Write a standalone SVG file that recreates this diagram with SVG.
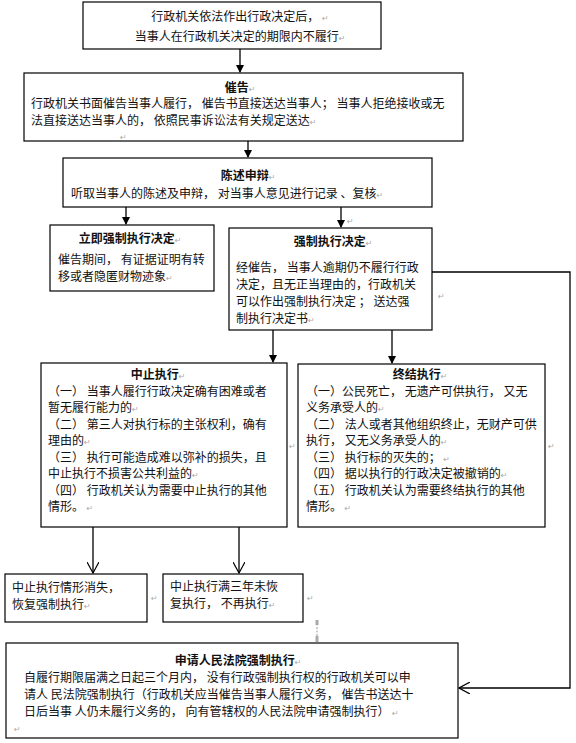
<svg xmlns="http://www.w3.org/2000/svg" width="576" height="743" viewBox="0 0 576 743">
<defs>
<style>
.box{fill:#fff;stroke:#000;stroke-width:1.2}
text{font-family:"Noto Sans CJK SC","Liberation Sans",sans-serif;font-size:12px;fill:#111}
.t{font-weight:bold;text-anchor:middle}
.c{text-anchor:middle}
.m{font-family:"DejaVu Sans",sans-serif;font-size:8px;fill:#aaa;font-weight:normal}
.ln{stroke:#000;stroke-width:1.3;fill:none}
</style>
<marker id="fa" markerWidth="8" markerHeight="8" refX="7" refY="4" orient="auto" markerUnits="userSpaceOnUse">
<path d="M0,0 L8,4 L0,8 Z" fill="#000"/>
</marker>
<marker id="oa" markerWidth="12" markerHeight="12" refX="11" refY="6" orient="auto" markerUnits="userSpaceOnUse">
<path d="M0,0 L11,6 L0,12" fill="none" stroke="#000" stroke-width="1.2"/>
</marker>
</defs>
<rect width="576" height="743" fill="#fff"/>

<g id="connectors">
<line class="ln" x1="240" y1="49" x2="240" y2="72" marker-end="url(#fa)"/>
<line class="ln" x1="248" y1="141" x2="248" y2="157" marker-end="url(#fa)"/>
<line class="ln" x1="126" y1="207" x2="126" y2="224" marker-end="url(#fa)"/>
<line class="ln" x1="341" y1="207" x2="341" y2="227" marker-end="url(#fa)"/>
<line class="ln" x1="273" y1="330" x2="273" y2="362" marker-end="url(#fa)"/>
<line class="ln" x1="392" y1="330" x2="392" y2="363" marker-end="url(#fa)"/>
<line class="ln" x1="93" y1="527" x2="93" y2="573" marker-end="url(#oa)"/>
<line class="ln" x1="239" y1="527" x2="239" y2="573" marker-end="url(#oa)"/>
<polyline class="ln" points="432,272 570,272 570,688 459,688" marker-end="url(#oa)"/>
<line x1="317" y1="620" x2="317" y2="642" stroke="#999" stroke-width="1" stroke-dasharray="2,1.5"/>
<rect x="315.5" y="620" width="3" height="5" fill="#aaa"/>
<rect x="315.5" y="636" width="3" height="6" fill="#aaa"/>
</g>

<g id="n1">
<rect class="box" x="83" y="2" width="298" height="47"/>
<text class="c" x="240" y="21">行政机关依法作出行政决定后，<tspan class="m"> ↵</tspan></text>
<text class="c" x="240" y="41">当事人在行政机关决定的期限内不履行<tspan class="m">↵</tspan></text>
</g>

<g id="n2">
<rect class="box" x="24" y="73" width="439" height="68"/>
<text class="t" x="240" y="92">催告<tspan class="m">↵</tspan></text>
<text x="31" y="108">行政机关书面催告当事人履行， 催告书直接送达当事人； 当事人拒绝接收或无</text>
<text x="31" y="125">法直接送达当事人的， 依照民事诉讼法有关规定送达<tspan class="m">↵</tspan></text>
</g>
<text class="m" x="120" y="140">↵</text>

<g id="n3">
<rect class="box" x="63" y="158" width="369" height="49"/>
<text class="t" x="248" y="180">陈述申辩<tspan class="m">↵</tspan></text>
<text x="71" y="198">听取当事人的陈述及申辩， 对当事人意见进行记录 、复核<tspan class="m">↵</tspan></text>
</g>
<text class="m" x="347" y="224">↵</text>

<g id="n4">
<rect class="box" x="50" y="225" width="164" height="66"/>
<text class="t" x="130" y="243">立即强制执行决定<tspan class="m">↵</tspan></text>
<text x="58" y="264">催告期间， 有证据证明有转</text>
<text x="58" y="281">移或者隐匿财物迹象<tspan class="m">↵</tspan></text>
</g>

<g id="n5">
<rect class="box" x="229" y="228" width="203" height="102"/>
<text class="t" x="333" y="246">强制执行决定<tspan class="m">↵</tspan></text>
<text x="236" y="272">经催告， 当事人逾期仍不履行行政</text>
<text x="236" y="289">决定，且无正当理由的，行政机关</text>
<text x="236" y="306">可以作出强制执行决定 ； 送达强</text>
<text x="236" y="323">制执行决定书<tspan class="m">↵</tspan></text>
</g>
<text class="m" x="438" y="299">↵</text>

<g id="n6">
<rect class="box" x="41" y="363" width="246" height="164"/>
<text class="t" x="158" y="379">中止执行<tspan class="m">↵</tspan></text>
<text x="48" y="395.5">（一）  当事人履行行政决定确有困难或者</text>
<text x="48" y="412">暂无履行能力的<tspan class="m">↵</tspan></text>
<text x="48" y="428.5">（二） 第三人对执行标的主张权利，确有</text>
<text x="48" y="445">理由的<tspan class="m">↵</tspan></text>
<text x="48" y="461.5">（三） 执行可能造成难以弥补的损失，且</text>
<text x="48" y="478">中止执行不损害公共利益的<tspan class="m">↵</tspan></text>
<text x="48" y="494.5">（四） 行政机关认为需要中止执行的其他</text>
<text x="48" y="511">情形。<tspan class="m"> ↵</tspan></text>
</g>
<text class="m" x="289" y="449">↵</text>

<g id="n7">
<rect class="box" x="298" y="364" width="247" height="163"/>
<text class="t" x="420" y="379">终结执行<tspan class="m">↵</tspan></text>
<text x="306" y="395.5">（一）公民死亡， 无遗产可供执行， 又无</text>
<text x="306" y="412">义务承受人的<tspan class="m">↵</tspan></text>
<text x="306" y="428.5">（二）  法人或者其他组织终止，无财产可供</text>
<text x="306" y="445">执行，  又无义务承受人的<tspan class="m">↵</tspan></text>
<text x="306" y="461.5">（三）  执行标的灭失的；<tspan class="m"> ↵</tspan></text>
<text x="306" y="478">（四）  据以执行的行政决定被撤销的<tspan class="m">↵</tspan></text>
<text x="306" y="494.5">（五）  行政机关认为需要终结执行的其他</text>
<text x="306" y="511">情形。<tspan class="m"> ↵</tspan></text>
</g>
<text class="m" x="548" y="449">↵</text>

<g id="n8">
<rect class="box" x="5" y="574" width="142" height="48"/>
<text x="12" y="592">中止执行情形消失，</text>
<text x="12" y="609">恢复强制执行<tspan class="m">↵</tspan></text>
</g>
<text class="m" x="151" y="601">↵</text>

<g id="n9">
<rect class="box" x="163" y="574" width="140" height="48"/>
<text x="170" y="591">中止执行满三年未恢</text>
<text x="170" y="608">复执行， 不再执行<tspan class="m">↵</tspan></text>
</g>
<text class="m" x="307" y="601">↵</text>

<g id="n10">
<rect class="box" x="6" y="643" width="452" height="95"/>
<text class="t" x="238" y="665">申请人民法院强制执行<tspan class="m">↵</tspan></text>
<text x="24" y="682">自履行期限届满之日起三个月内， 没有行政强制执行权的行政机关可以申</text>
<text x="24" y="699">请人 民法院强制执行（行政机关应当催告当事人履行义务， 催告书送达十</text>
<text x="24" y="716">日后当事 人仍未履行义务的， 向有管辖权的人民法院申请强制执行）<tspan class="m"> ↵</tspan></text>
<text class="m" x="14" y="732">↵</text>
</g>
</svg>
